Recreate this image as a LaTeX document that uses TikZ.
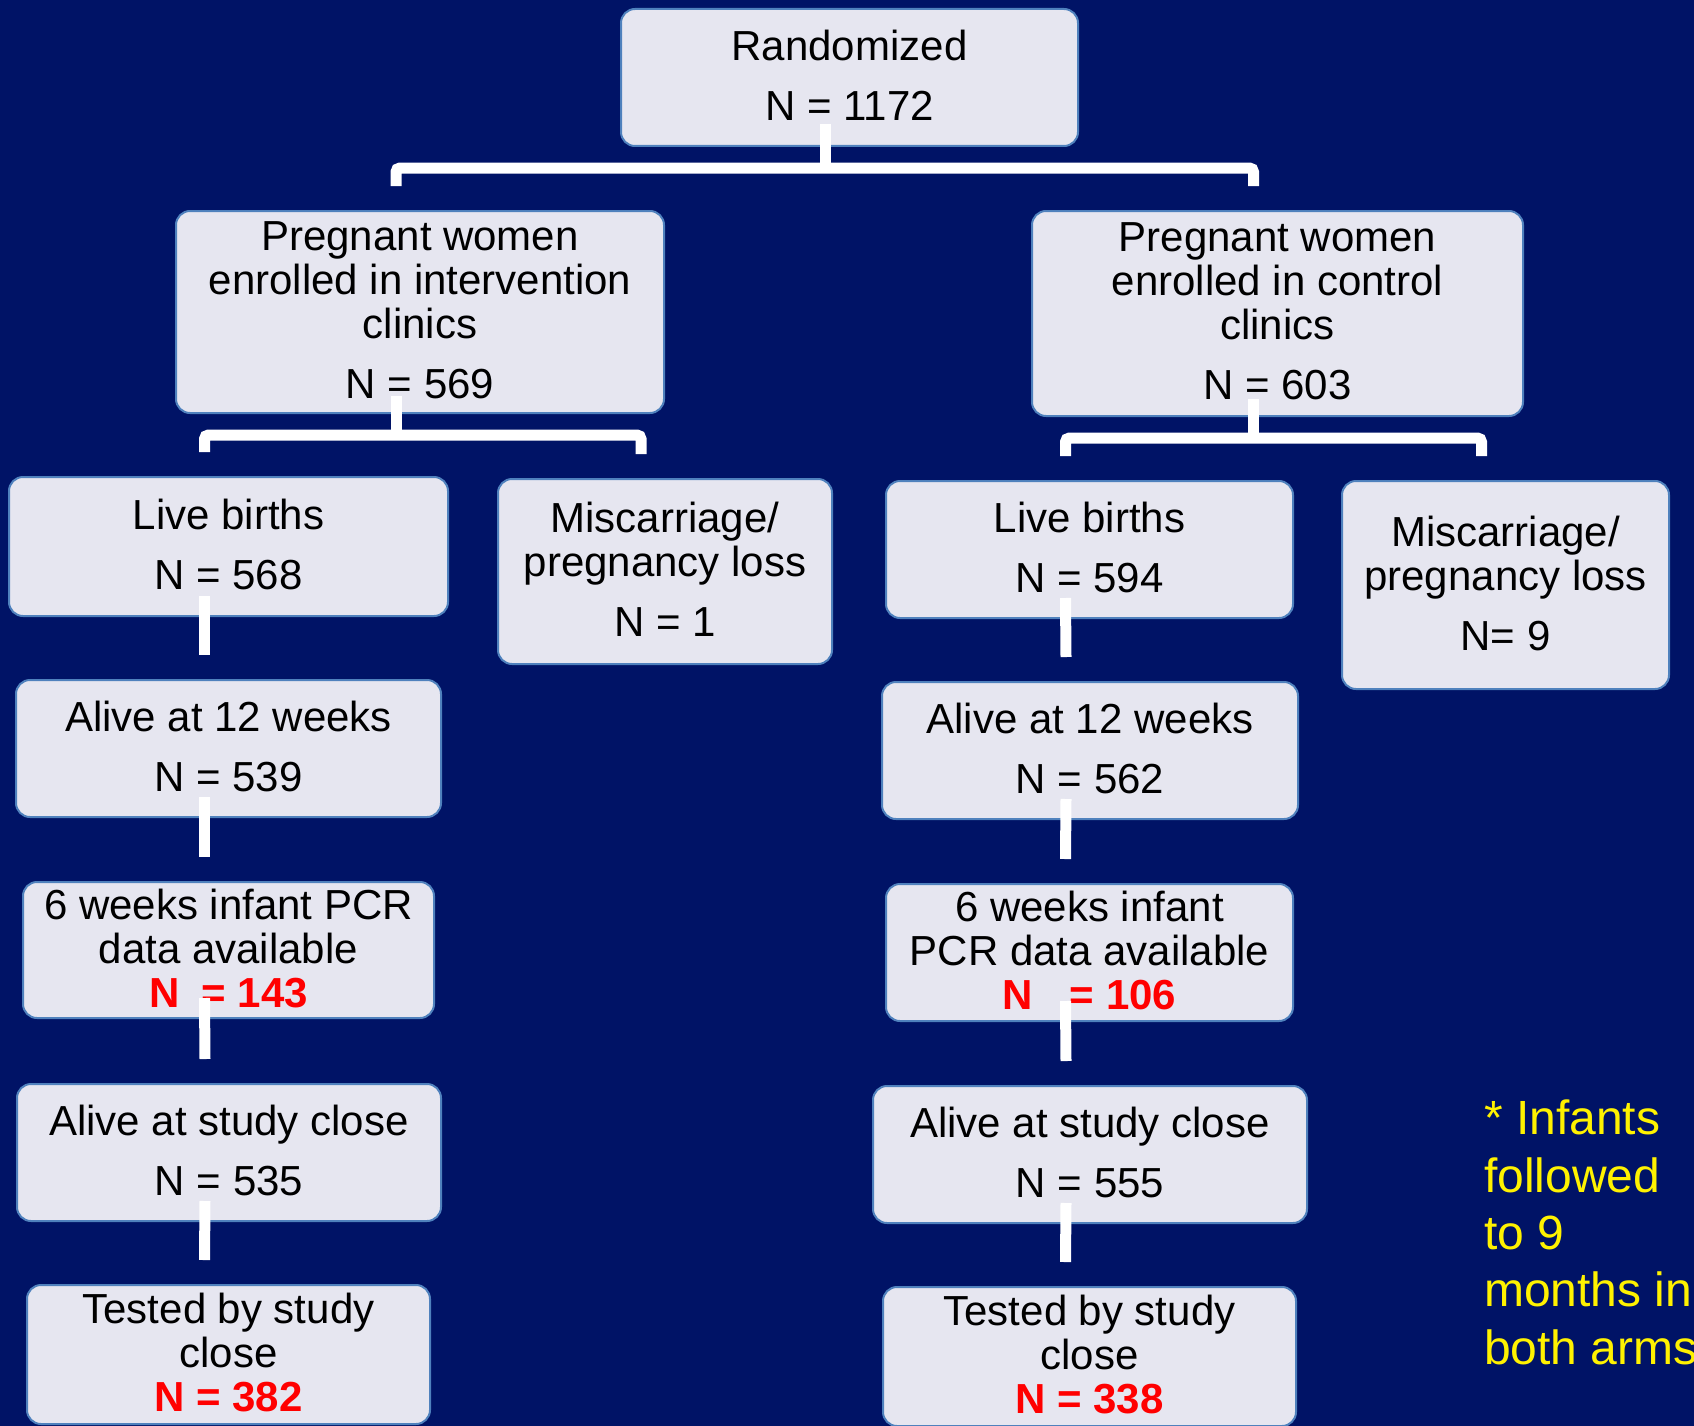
\documentclass[tikz,border=0pt]{standalone}
\usepackage{fontspec}
\setmainfont{Liberation Sans}
\usetikzlibrary{calc}
\definecolor{bg}{RGB}{0,19,102}
\definecolor{boxfill}{RGB}{230,230,240}
\definecolor{boxline}{RGB}{79,129,189}
\newcommand{\bxfont}{\fontsize{42}{44}\selectfont}
\newcommand{\rn}[1]{\textcolor{red}{\bfseries #1}}
\begin{document}
\begin{tikzpicture}[x=1pt,y=-1pt,
  box/.style={draw=boxline, line width=2pt, fill=boxfill, rounded corners=14pt,
    inner sep=0pt, align=center, font=\bxfont, text=black,
    execute at end node={\rule[-4pt]{0pt}{4pt}}},
  conn/.style={draw=white, line width=11pt, rounded corners=4pt},
  note/.style={anchor=north west, inner sep=0pt, align=left, text=yellow,
    font=\fontsize{48}{57.3}\selectfont}]
\fill[bg] (0,0) rectangle (1694,1426);
\useasboundingbox (0,0) rectangle (1694,1426);

\node[box, minimum width=457pt, minimum height=137pt] (rand) at (849.5,77.5) {Randomized\\[16pt]N = 1172};
\node[box, minimum width=488pt, minimum height=202pt] (int) at (420,312) {Pregnant women\\enrolled in intervention\\clinics\\[16pt]N = 569};
\node[box, minimum width=491pt, minimum height=205pt] (ctl) at (1277.5,313.5) {Pregnant women\\enrolled in control\\clinics\\[16pt]N = 603};

\node[box, minimum width=439pt, minimum height=139pt] (lbL) at (228.5,546.5) {Live births\\[16pt]N = 568};
\node[box, minimum width=334pt, minimum height=185pt] (misL) at (665,571.5) {Miscarriage/\\pregnancy loss\\[16pt]N = 1};
\node[box, minimum width=407pt, minimum height=137pt] (lbR) at (1089.5,549.5) {Live births\\[16pt]N = 594};
\node[box, minimum width=327pt, minimum height=208pt] (misR) at (1505.5,585) {Miscarriage/\\pregnancy loss\\[16pt]N= 9};

\node[box, minimum width=425pt, minimum height=137pt] (a12L) at (228.5,748.5) {Alive at 12 weeks\\[16pt]N = 539};
\node[box, minimum width=416pt, minimum height=137pt] (a12R) at (1090,750.5) {Alive at 12 weeks\\[16pt]N = 562};

\node[box, minimum width=411pt, minimum height=136pt] (pcrL) at (228.5,950) {6 weeks infant PCR\\data available\\\rn{N\hspace{22pt}= 143}};
\node[box, minimum width=407pt, minimum height=137pt] (pcrR) at (1089.5,952.5) {6 weeks infant\\PCR data available\\\rn{N\hspace{37pt}= 106}};

\node[box, minimum width=424pt, minimum height=137pt] (clsL) at (229,1152.5) {Alive at study close\\[16pt]N = 535};
\node[box, minimum width=434pt, minimum height=137pt] (clsR) at (1090,1154.5) {Alive at study close\\[16pt]N = 555};

\node[box, minimum width=403pt, minimum height=139pt] (tstL) at (228.5,1354.5) {Tested by study\\close\\\rn{N = 382}};
\node[box, minimum width=413pt, minimum height=139pt] (tstR) at (1089.5,1356.5) {Tested by study\\close\\\rn{N = 338}};

\node[note] (note) at (1484,1100) {* Infants\\followed\\to 9\\months in\\both arms};

% brackets
\draw[conn] ([xshift=-24pt,yshift=24pt]int.north) |- ([yshift=-21pt]rand.south) -| ([xshift=-24pt,yshift=24pt]ctl.north);
\draw[conn] ([xshift=-24pt,yshift=23pt]rand.south) -- ([xshift=-24pt,yshift=-21pt]rand.south);

\draw[conn] ([xshift=-24pt,yshift=24pt]lbL.north) |- ([yshift=-21pt]int.south) -| ([xshift=-24pt,yshift=24pt]misL.north);
\draw[conn] ([xshift=-24pt,yshift=18pt]int.south) -- ([xshift=-24pt,yshift=-21pt]int.south);

\draw[conn] ([xshift=-24pt,yshift=24pt]lbR.north) |- ([yshift=-21pt]ctl.south) -| ([xshift=-24pt,yshift=24pt]misR.north);
\draw[conn] ([xshift=-24pt,yshift=18pt]ctl.south) -- ([xshift=-24pt,yshift=-21pt]ctl.south);

% column connectors
\foreach \a/\b in {lbL/a12L, a12L/pcrL, pcrL/clsL, clsL/tstL, lbR/a12R, a12R/pcrR, pcrR/clsR, clsR/tstR}
  \draw[conn] ([xshift=-24pt,yshift=21pt]\a.south) -- ([xshift=-24pt,yshift=24pt]\b.north);
\end{tikzpicture}
\end{document}
